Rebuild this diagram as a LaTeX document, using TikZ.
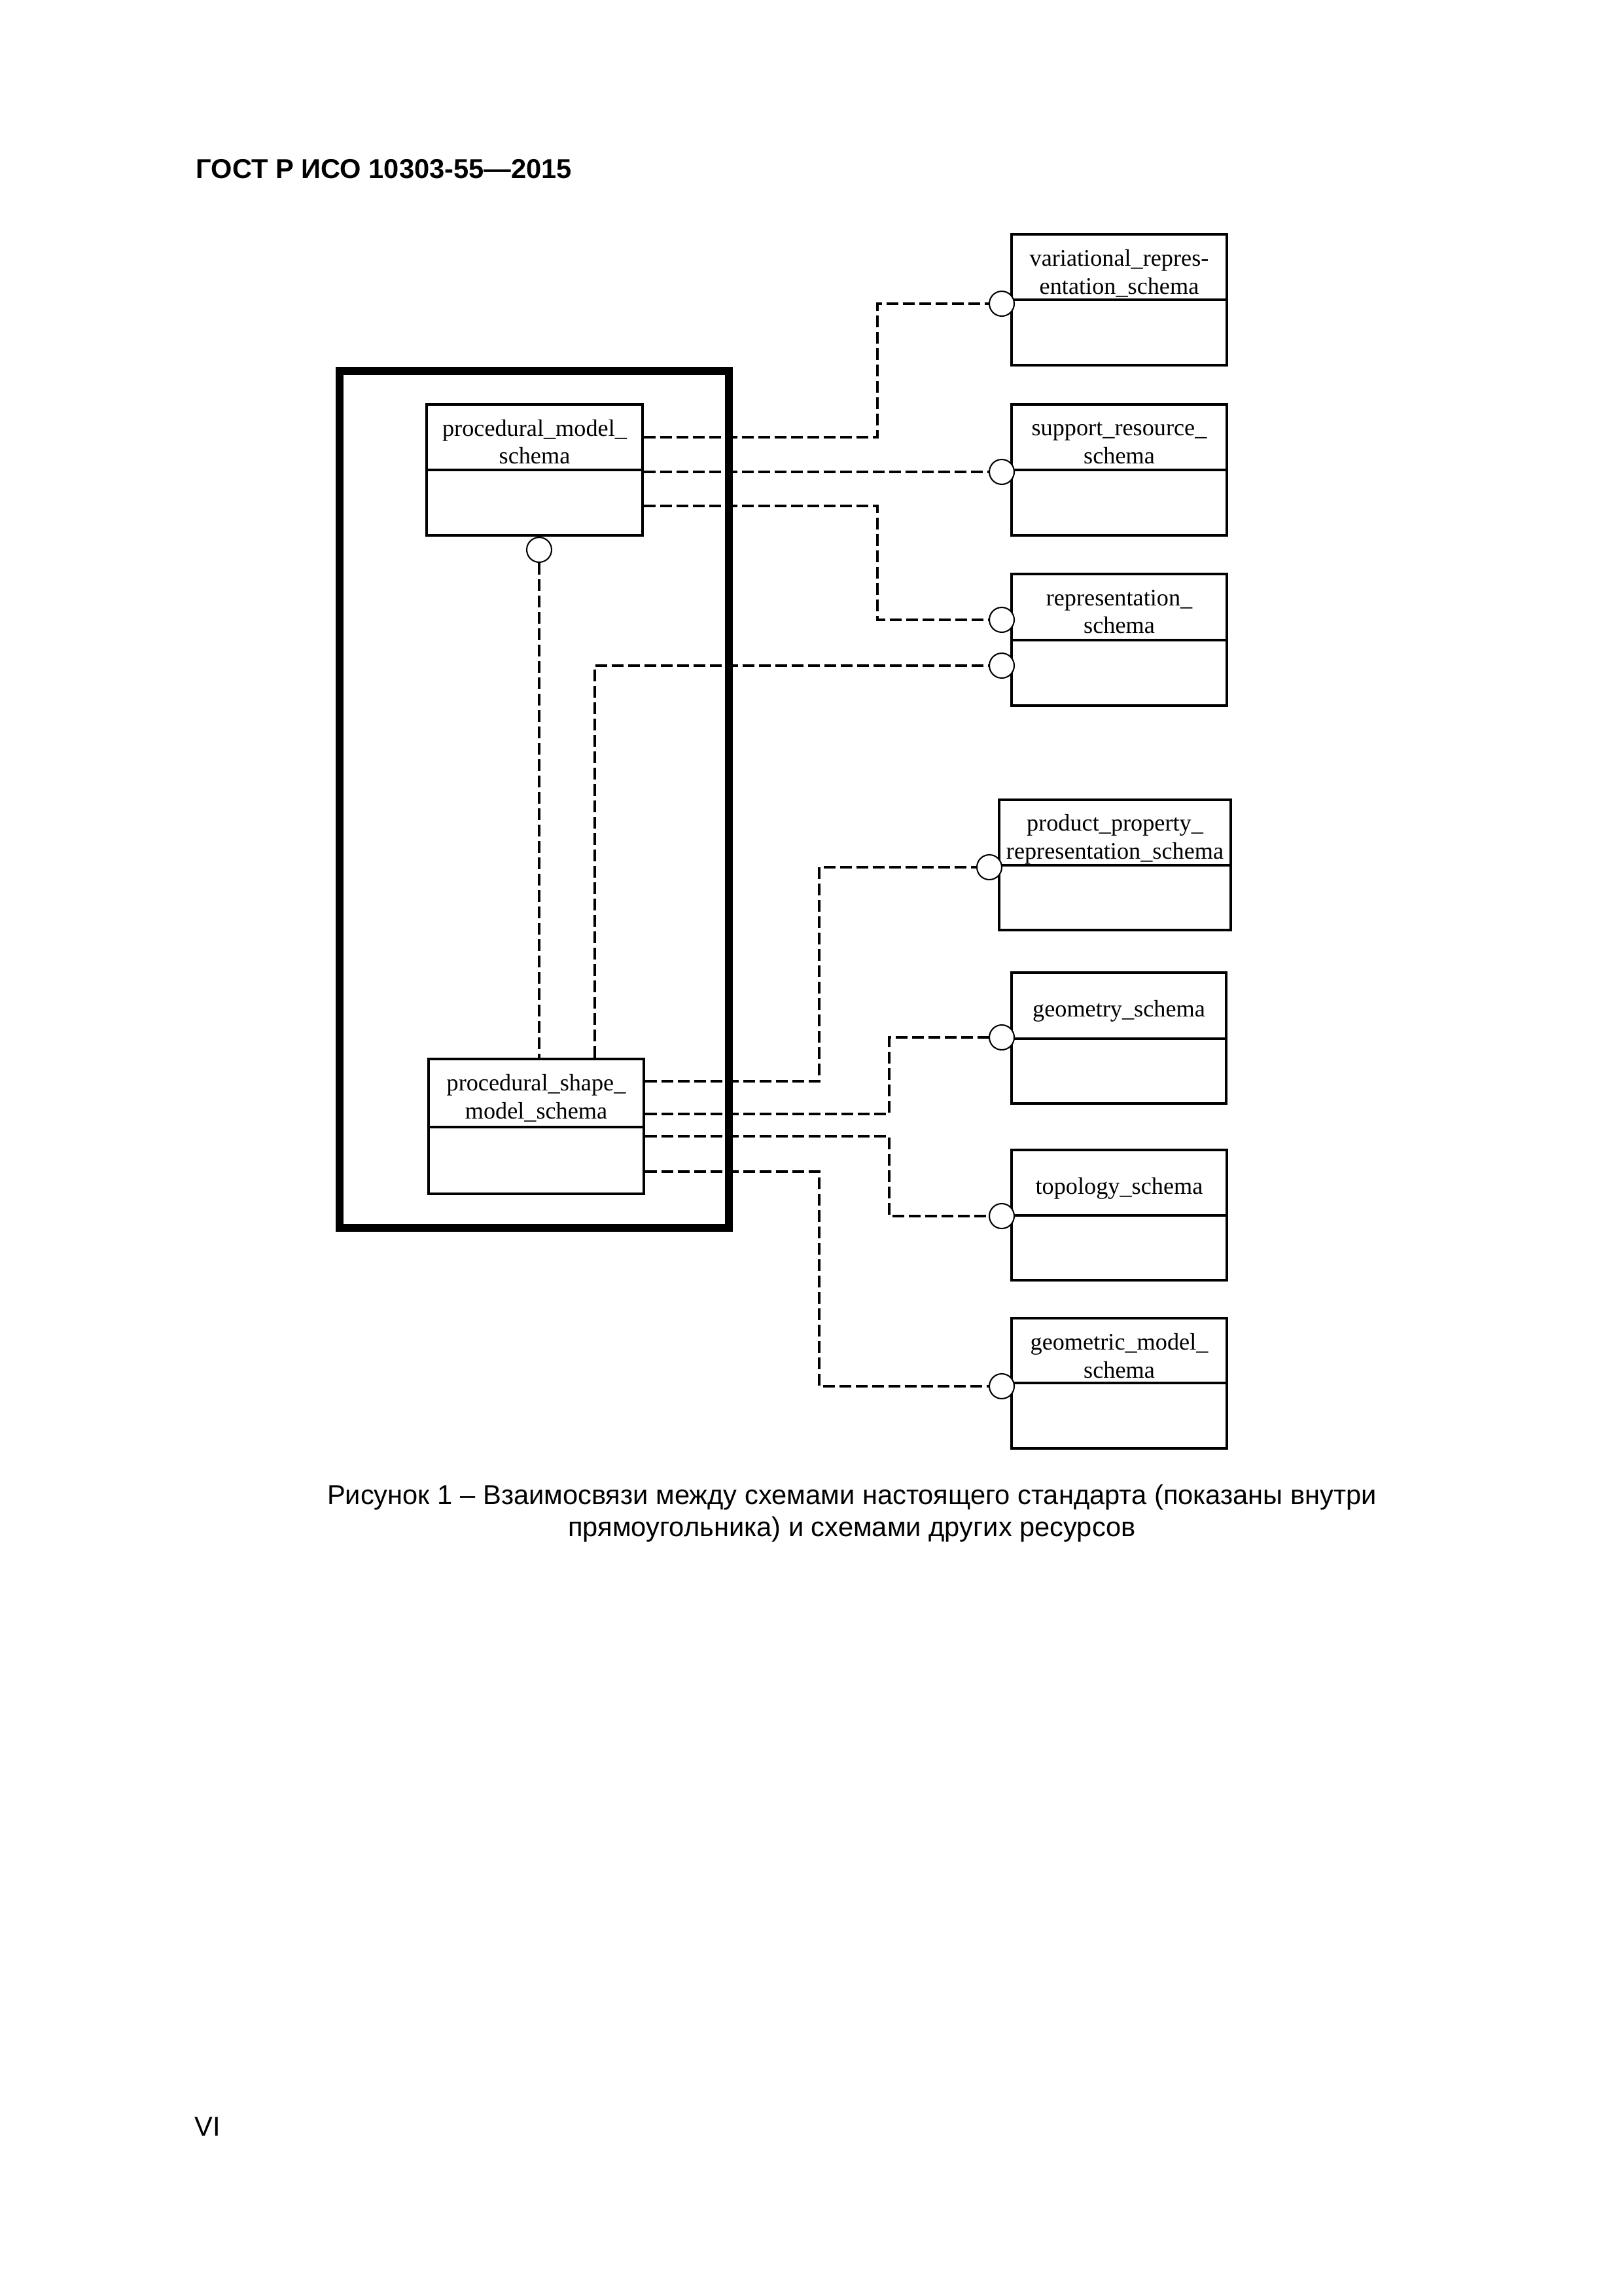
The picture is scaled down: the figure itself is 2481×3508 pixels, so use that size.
\documentclass[tikz,border=0pt]{standalone}
\usepackage{fontspec}
\newfontfamily\lbfont{Liberation Serif}
\newfontfamily\hdfont{Liberation Sans}
\newcommand{\schbox}[6]{%
  \node[sbox, minimum width={(#4-#2)*0.24pt}, minimum height={(#5-#3)*0.24pt}] (#1) at ({(#2+#4)/2},{(#3+#5)/2}) {};
  \draw[boxline] (#1.west |- 0,#6) -- (#1.east |- 0,#6);
}
\begin{document}
\begin{tikzpicture}[x=0.24pt,y=-0.24pt,
  sbox/.style={draw, line width=0.8pt, inner sep=0pt},
  boxline/.style={line width=0.8pt},
  lbl/.style={font=\lbfont\fontsize{8.7}{10.3}\selectfont, inner sep=0pt, anchor=base},
  ball/.style={circle, draw, line width=0.5pt, minimum size=9.12pt, inner sep=0pt, fill=white},
  dsh/.style={line width=0.75pt, dash pattern=on 4.3pt off 1.7pt},
  txt/.style={font=\hdfont\fontsize{10}{11.7}\selectfont, inner sep=0pt}]
\fill[white] (0,0) rectangle (2481,3508);
\useasboundingbox (0,0) rectangle (2481,3508);

% header and footer
\node[txt, font=\hdfont\bfseries\fontsize{10}{12}\selectfont, anchor=base west] (hdr) at (299,273) {ГОСТ Р ИСО 10303-55—2015};
\node[txt, anchor=base west] (pg) at (297,3263) {VI};

% thick frame
\node[draw, line width=2.88pt, inner sep=0pt, minimum width={595*0.24pt}, minimum height={1309*0.24pt}] (frame) at (816.5,1221.5) {};

% boxes
\schbox{vr}{1546}{358}{1875}{558}{458}
\schbox{sr}{1546}{618}{1875}{818}{718}
\schbox{rp}{1546}{877}{1875}{1078}{978}
\schbox{pp}{1527}{1222}{1881}{1421}{1322}
\schbox{gs}{1546}{1486}{1874}{1686}{1587}
\schbox{ts}{1546}{1757}{1875}{1956}{1857}
\schbox{gm}{1546}{2014}{1875}{2213}{2113}
\schbox{pm}{652}{618}{982}{818}{718}
\schbox{ps}{655}{1618}{984}{1824}{1722}

% labels
\node[lbl] (vr1) at (1710.5,407) {variational\_repres-};
\node[lbl] (vr2) at (1710.5,450) {entation\_schema};
\node[lbl] (sr1) at (1710.5,666) {support\_resource\_};
\node[lbl] (sr2) at (1710.5,709) {schema};
\node[lbl] (rp1) at (1710.5,925) {representation\_};
\node[lbl] (rp2) at (1710.5,968) {schema};
\node[lbl] (pp1) at (1704,1269) {product\_property\_};
\node[lbl] (pp2) at (1704,1312) {representation\_schema};
\node[lbl] (gs1) at (1710,1553) {geometry\_schema};
\node[lbl] (ts1) at (1710.5,1824) {topology\_schema};
\node[lbl] (gm1) at (1710.5,2062) {geometric\_model\_};
\node[lbl] (gm2) at (1710.5,2105) {schema};
\node[lbl] (pm1) at (817,667) {procedural\_model\_};
\node[lbl] (pm2) at (817,709) {schema};
\node[lbl] (ps1) at (819.5,1666) {procedural\_shape\_};
\node[lbl] (ps2) at (819.5,1709) {model\_schema};

% interface circles
\node[ball] (cvr) at (1531,464) {};
\node[ball] (csr) at (1531,721) {};
\node[ball] (crp1) at (1531,947) {};
\node[ball] (crp2) at (1531,1017) {};
\node[ball] (cpp) at (1512,1325) {};
\node[ball] (cgs) at (1531,1585) {};
\node[ball] (cts) at (1531,1858) {};
\node[ball] (cgm) at (1531,2118) {};
\node[ball] (cpm) at (824,840) {};

% connectors
\draw[dsh] (pm.east |- 0,668) -- (1341,668) |- (cvr.west);
\draw[dsh] (pm.east |- csr) -- (csr.west);
\draw[dsh] (pm.east |- 0,773) -- (1341,773) |- (crp1.west);
\draw[dsh] (ps.north -| 909,0) |- (crp2.west);
\draw[dsh] (cpm.south) -- (cpm.south |- ps.north);
\draw[dsh] (ps.east |- 0,1652) -- (1252,1652) |- (cpp.west);
\draw[dsh] (ps.east |- 0,1702) -- (1359,1702) |- (cgs.west);
\draw[dsh] (ps.east |- 0,1736) -- (1359,1736) |- (cts.west);
\draw[dsh] (ps.east |- 0,1790) -- (1252,1790) |- (cgm.west);

% caption
\node[txt, anchor=base] (cap1) at (1302,2298) {Рисунок 1 – Взаимосвязи между схемами настоящего стандарта (показаны внутри};
\node[txt, anchor=base] (cap2) at (1302,2347) {прямоугольника) и схемами других ресурсов};
\end{tikzpicture}
\end{document}
